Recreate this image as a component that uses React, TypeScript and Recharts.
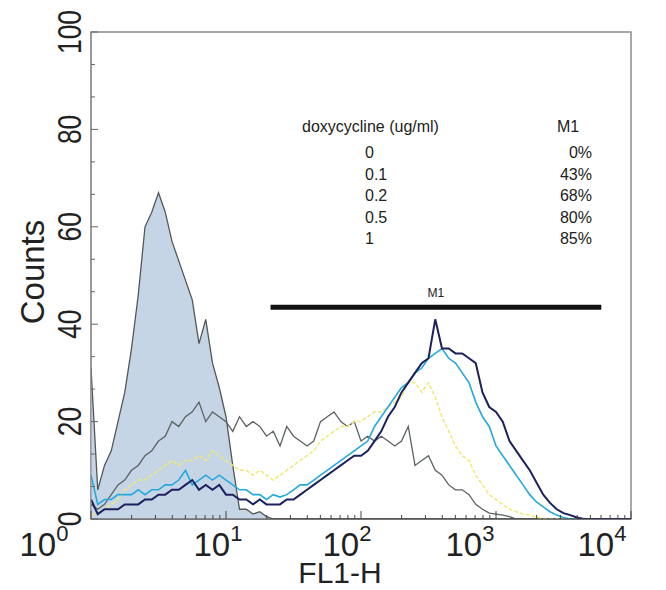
import { ComposedChart, Area, Line, XAxis, YAxis, ReferenceArea, ReferenceLine } from 'recharts'

// FL1-H channel position, in decades (10^0 .. 10^4)
const logFl1 = [
  0, 0.05, 0.1, 0.15, 0.2, 0.25, 0.3, 0.35, 0.4, 0.45,
  0.5, 0.55, 0.6, 0.65, 0.7, 0.75, 0.8, 0.85, 0.9, 0.95,
  1, 1.05, 1.1, 1.15, 1.2, 1.25, 1.3, 1.35, 1.4, 1.45,
  1.5, 1.55, 1.6, 1.65, 1.7, 1.75, 1.8, 1.85, 1.9, 1.95,
  2, 2.05, 2.1, 2.15, 2.2, 2.25, 2.3, 2.35, 2.4, 2.45,
  2.5, 2.55, 2.6, 2.65, 2.7, 2.75, 2.8, 2.85, 2.9, 2.95,
  3, 3.05, 3.1, 3.15, 3.2, 3.25, 3.3, 3.35, 3.4, 3.45,
  3.5, 3.55, 3.6, 3.65, 3.7, 3.75, 3.8, 3.85, 3.9, 3.95,
  4,
]

// counts per dose
const dox0 = [
  31, 6, 11, 14, 20, 26, 35, 46, 60, 63,
  67, 63, 57, 53, 49, 45, 36, 41, 32, 27,
  21, 11, 2, 2, 1, 1.5, 0.5, 0, 0, 0,
  0, 0, 0, 0, 0, 0, 0, 0, 0, 0,
  0, 0, 0, 0, 0, 0, 0, 0, 0, 0,
  0, 0, 0, 0, 0, 0, 0, 0, 0, 0,
  0, 0, 0, 0, 0, 0, 0, 0, 0, 0,
  0, 0, 0, 0, 0, 0, 0, 0, 0, 0,
  0,
]
const dox01 = [
  3, 2, 3, 5, 7, 8, 10, 11, 13, 14,
  16, 17, 20, 19, 21, 22, 24, 20, 22, 21,
  20, 18, 21, 19, 20, 19, 17, 18, 15, 19,
  17, 16, 15, 16, 20, 21, 22, 20, 19, 20,
  16, 17, 16, 17, 16, 15, 16, 19, 11, 12,
  13, 10, 9, 7, 6, 6, 5, 3, 2, 1.2,
  1, 0.8, 0.5, 0, 0, 0, 0, 0, 0, 0,
  0, 0, 0, 0, 0, 0, 0, 0, 0, 0,
  0,
]
const dox02 = [
  1, 1, 2, 3, 4, 6, 7, 8, 8, 9,
  10, 11, 12, 11, 12, 12, 13, 12, 14, 13,
  12, 11, 10, 10, 9, 10, 9, 8, 9, 10,
  11, 12, 13, 14, 16, 17, 18, 19, 19, 20,
  20, 21, 22, 22, 23, 24, 25, 28, 28, 26,
  28, 25, 21, 18, 15, 13, 12, 9, 7, 5,
  4, 3, 2, 1.5, 1, 0.8, 0.4, 0, 0, 0,
  0, 0, 0, 0, 0, 0, 0, 0, 0, 0,
  0,
]
const dox05 = [
  9, 3, 4, 4, 5, 5, 5, 6, 5, 6,
  6, 7, 7, 8, 10, 7, 8, 9, 8, 9,
  8, 7, 6, 6, 5, 5, 4, 5, 4.5, 5,
  6, 7, 7, 8, 9, 10, 11, 12, 13, 14,
  15, 16, 19, 21, 23, 25, 27, 28, 30, 31,
  33, 34, 35, 33, 32, 30, 28, 24, 21, 19,
  15, 13, 11, 9, 7, 5, 3.5, 2.5, 1.5, 0.8,
  0.3, 0, 0, 0, 0, 0, 0, 0, 0, 0,
  0,
]
const dox1 = [
  4, 1, 2, 2, 2, 3, 3, 3, 4, 4,
  5, 5, 6, 6, 7, 8, 6, 7, 6, 7,
  5, 5, 4, 4, 3, 4, 3, 3, 3, 4,
  4, 5, 6, 7, 8, 9, 10, 11, 12, 13,
  13, 14, 16, 18, 21, 23, 26, 28, 30, 32,
  33, 41, 35, 35, 34, 34, 33, 32, 26, 23,
  22, 20, 16, 14, 12, 10, 7.5, 5, 3.3, 2,
  1.2, 0.8, 0.3, 0, 0, 0, 0, 0, 0, 0,
  0,
]

const doseLabels = ['0', '0.1', '0.2', '0.5', '1']
const m1Percent = ['0%', '43%', '68%', '80%', '85%']

// M1 gate, in decades, and its height on the counts axis
const m1From = 1.33
const m1To = 3.78
const m1Level = 43.5

const xMajor = [0, 1, 2, 3, 4]
const xMinor = xMajor.slice(0, 4).flatMap((n) => [2, 3, 4, 5, 6, 7, 8, 9].map((m) => n + Math.log10(m)))
const yMajor = [0, 20, 40, 60, 80, 100]
const yAll = Array.from({ length: 16 }, (_, i) => (i * 20) / 3)

const data = logFl1.map((d, i) => ({
  d,
  c0: dox0[i],
  c01: dox01[i],
  c02: dox02[i],
  c05: dox05[i],
  c1: dox1[i],
}))

const font = '"Liberation Sans", Arial, Helvetica, sans-serif'
// the decade labels sit a little left of their ticks in the original
const xLabelShift = [-47, -8, -14, -26, -29]

function XTick({ x, y, payload }: any) {
  const v = payload.value
  const idx = xMajor.indexOf(v)
  const major = idx >= 0
  return (
    <g>
      <line x1={x} y1={y} x2={x} y2={y - (major ? 8 : 4)} stroke="#444" />
      {major && (
        <text x={x + xLabelShift[idx]} y={y + 37} textAnchor="middle" fontSize={33} fill="#222" fontFamily={font}>
          10<tspan dy={-15} fontSize={22}>{v}</tspan>
        </text>
      )}
    </g>
  )
}

function YTick({ x, y, payload }: any) {
  const v = payload.value
  const major = yMajor.some((m) => Math.abs(m - v) < 0.01)
  return (
    <g>
      <line x1={x} y1={y} x2={x + (major ? 7 : 4)} y2={y} stroke="#666" />
      {major && (
        <text
          transform={`translate(${x - 10}, ${y}) rotate(-90) scale(0.8, 1)`}
          textAnchor="middle"
          fontSize={33}
          fill="#222"
          fontFamily={font}
        >
          {Math.round(v)}
        </text>
      )}
    </g>
  )
}

export default function App() {
  const rowTop = (i: number) => 143 + i * 21.5
  const txt = { position: 'absolute' as const, fontFamily: font, fontSize: 16, lineHeight: '20px', color: '#222', whiteSpace: 'nowrap' as const }
  return (
    <div style={{ position: 'absolute', left: 0, top: 0, width: 666, height: 590, background: '#fff' }}>
      <ComposedChart width={666} height={590} data={data} margin={{ top: 32, right: 35, bottom: 0, left: 0 }}>
        <XAxis
          dataKey="d"
          type="number"
          domain={[0, 4]}
          ticks={[...xMajor, ...xMinor]}
          interval={0}
          tickSize={0}
          tickMargin={0}
          tick={<XTick />}
          height={71}
          stroke="#444"
          allowDataOverflow
          label={() => (
            <text x={340} y={583} textAnchor="middle" fontSize={30} fill="#222" fontFamily={font}>
              FL1-H
            </text>
          )}
        />
        <YAxis
          type="number"
          domain={[0, 100]}
          ticks={yAll}
          interval={0}
          tickSize={0}
          tickMargin={0}
          tick={<YTick />}
          width={91}
          stroke="#8c8c8c"
          allowDataOverflow
          label={() => (
            <text transform="translate(44, 272) rotate(-90)" textAnchor="middle" fontSize={33} fill="#222" fontFamily={font}>
              Counts
            </text>
          )}
        />
        <ReferenceArea x1={0} x2={4} y1={0} y2={100} fill="none" stroke="#8c8c8c" strokeWidth={1.5} />
        <Area
          type="linear"
          dataKey="c0"
          fill="#c6d5e5"
          fillOpacity={1}
          stroke="#525858"
          strokeWidth={1.3}
          isAnimationActive={false}
        />
        <Line type="linear" dataKey="c01" stroke="#5c6262" strokeWidth={1.3} dot={false} isAnimationActive={false} />
        <Line
          type="linear"
          dataKey="c02"
          stroke="#efe978"
          strokeWidth={1.5}
          strokeDasharray="4 2"
          dot={false}
          isAnimationActive={false}
        />
        <Line type="linear" dataKey="c05" stroke="#24a9de" strokeWidth={1.6} dot={false} isAnimationActive={false} />
        <Line type="linear" dataKey="c1" stroke="#1c215e" strokeWidth={2} dot={false} isAnimationActive={false} />
        <ReferenceLine
          segment={[
            { x: m1From, y: m1Level },
            { x: m1To, y: m1Level },
          ]}
          stroke="#111"
          strokeWidth={5}
          label={{ value: 'M1', position: 'top', offset: 10, fontSize: 12, fill: '#222', fontFamily: font }}
        />
      </ComposedChart>

      <div style={{ ...txt, left: 302, top: 117 }}>doxycycline (ug/ml)</div>
      <div style={{ ...txt, left: 557, top: 117 }}>M1</div>
      {doseLabels.map((d, i) => (
        <div key={d} style={{ ...txt, left: 365, top: rowTop(i) }}>
          {d}
        </div>
      ))}
      {m1Percent.map((p, i) => (
        <div key={p} style={{ ...txt, right: 666 - 592, top: rowTop(i) }}>
          {p}
        </div>
      ))}
    </div>
  )
}
